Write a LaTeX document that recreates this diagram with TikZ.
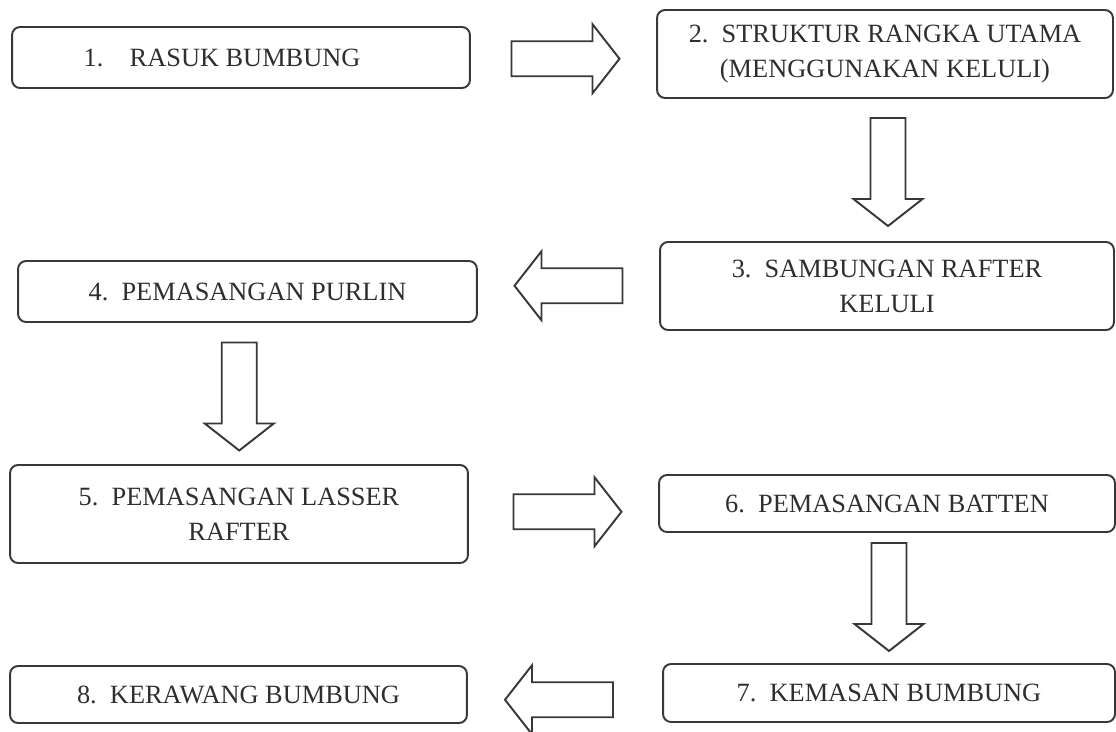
\documentclass[tikz,border=0pt]{standalone}
\usepackage{fontspec}
\setmainfont{Liberation Serif}
\usetikzlibrary{calc}

% hollow block arrow, pointing right before rotation
\tikzset{
  blockarrow/.pic={
    \draw[arrowline] (-54,-17.5) -- (27,-17.5) -- (27,-34.5) -- (54,0)
      -- (27,34.5) -- (27,17.5) -- (-54,17.5) -- cycle;
  }
}

\begin{document}
\begin{tikzpicture}[x=0.02cm, y=-0.02cm,
    stepbox/.style={draw=black!78, line width=1.1pt, rounded corners=0.16cm,
                    align=center, inner sep=0pt, text=black!82,
                    font=\fontsize{15}{20}\selectfont},
    arrowline/.style={draw=black!78, line width=1.1pt, fill=white}]
      \useasboundingbox (0,0) rectangle (1116,731);

      % Langkah kerja
      \node[stepbox, minimum width=9.16cm, minimum height=1.22cm] (b1) at (241,57.5)
            {1.\quad RASUK BUMBUNG\hspace*{0.76cm}};
      \node[stepbox, minimum width=9.12cm, minimum height=1.76cm] (b2) at (885,54)
            {2.~~STRUKTUR RANGKA UTAMA\\(MENGGUNAKAN KELULI)};
      \node[stepbox, minimum width=9.08cm, minimum height=1.76cm] (b3) at (887,286)
            {3.~~SAMBUNGAN RAFTER\\KELULI};
      \node[stepbox, minimum width=9.18cm, minimum height=1.22cm] (b4) at (247.5,291.5)
            {4.~~PEMASANGAN PURLIN};
      \node[stepbox, minimum width=9.16cm, minimum height=1.96cm] (b5) at (239,514)
            {5.~~PEMASANGAN LASSER\\RAFTER};
      \node[stepbox, minimum width=9.12cm, minimum height=1.14cm] (b6) at (887,503.5)
            {6.~~PEMASANGAN BATTEN};
      \node[stepbox, minimum width=9.04cm, minimum height=1.16cm] (b7) at (889,693)
            {7.~~KEMASAN BUMBUNG};
      \node[stepbox, minimum width=9.14cm, minimum height=1.14cm] (b8) at (238.5,694.5)
            {8.~~KERAWANG BUMBUNG};

      % Anak panah antara langkah
      \pic at ($(b1.east)!0.5!(b2.west)+(2,3)$) {blockarrow};
      \pic[rotate=-90] at ($(b2.south)!0.5!(b3.north)+(2,2)$) {blockarrow};
      \pic[rotate=180] at ($(b3.west)!0.5!(b4.east)+(0,-3)$) {blockarrow};
      \pic[rotate=-90] at ($(b4.south)!0.5!(b5.north)+(-4,3)$) {blockarrow};
      \pic at ($(b5.east)!0.5!(b6.west)+(4,3)$) {blockarrow};
      \pic[rotate=-90] at ($(b6.south)!0.5!(b7.north)+(1,-1)$) {blockarrow};
      \pic[rotate=180] at ($(b7.west)!0.5!(b8.east)+(-6,6)$) {blockarrow};
\end{tikzpicture}
\end{document}
